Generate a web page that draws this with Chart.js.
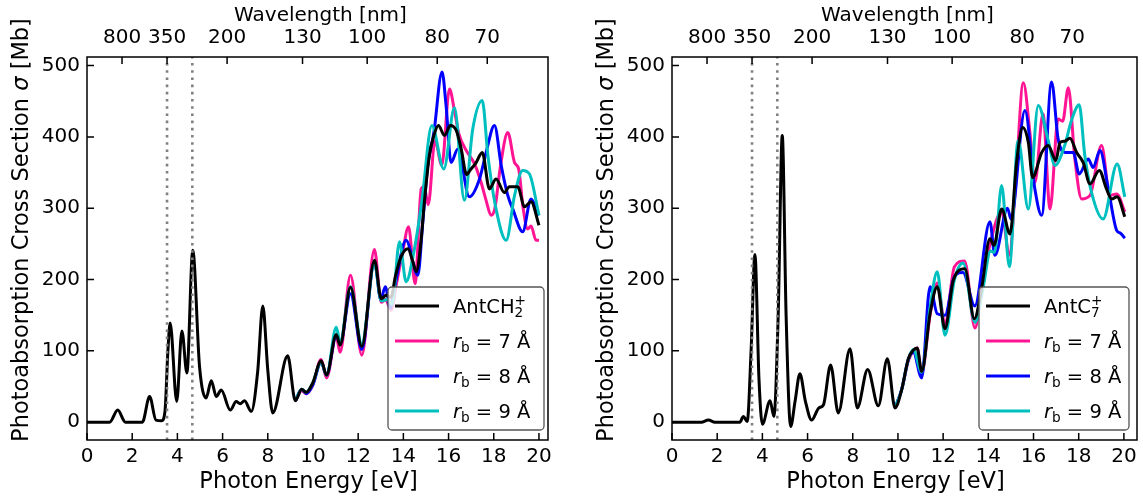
<!DOCTYPE html>
<html>
<head>
<meta charset="utf-8">
<script src="https://cdn.jsdelivr.net/npm/chart.js@4"></script>
<style>
  body { margin: 0; background: #fff; width: 1143px; height: 500px; overflow: hidden; position: relative; }
  canvas { position: absolute; top: 0; }
  #left { left: 0; }
  #right { left: 571px; }
</style>
</head>
<body>
<canvas id="left" width="571" height="500"></canvas>
<canvas id="right" width="572" height="500"></canvas>
<script>
// axis ticks
const xTicks = [0, 2, 4, 6, 8, 10, 12, 14, 16, 18, 20];
const yTicks = [0, 100, 200, 300, 400, 500];
const wavelengthTicks = [800, 350, 200, 130, 100, 80, 70];
const laserLines = [350, 266]; // nm

// left panel: AntCH2+
const ch2E = [0, 1.0, 1.36, 1.7, 2.45, 2.77, 3.05, 3.3, 3.45, 3.58, 3.68, 3.97, 4.2, 4.42, 4.68, 4.98, 5.27, 5.5, 5.72, 5.94,
  6.34, 6.6, 6.78, 6.97, 7.27, 7.55, 7.78, 8.0, 8.22, 8.88, 9.22, 9.5, 9.7, 9.99, 10.36, 10.6, 11.03, 11.2, 11.66, 12.16,
  12.72, 13.02, 13.24, 13.45, 13.65, 13.9, 14.2, 14.42, 14.57, 14.79, 14.93, 15.15, 15.35, 15.55, 15.82, 16.08, 16.34, 16.56,
  16.8, 16.95, 17.22, 17.49, 17.81, 18.1, 18.47, 18.69, 19.06, 19.36, 19.65, 20.0];
const ch2Y = [0, 0, 17, 0, 0, 36, 3, 2, 15, 100, 139, 29, 128, 69, 241, 78, 34, 58, 36, 45,
  17, 29, 26, 30, 15, 70, 163, 73, 13, 93, 30, 46, 42, 55, 86, 66, 123, 108, 189, 106,
  227, 173, 178, 175, 205, 232, 243, 225, 211, 257, 309, 374, 402, 416, 402, 416, 409, 383,
  347, 353, 364, 378, 327, 341, 322, 330, 330, 302, 309, 276];

const ch2r7E = [9.22, 9.5, 9.7, 9.99, 10.36, 10.6, 11.03, 11.2, 11.66, 12.16, 12.72, 13.02, 13.2, 13.46, 13.7, 13.95,
  14.23, 14.52, 14.79, 14.92, 15.1, 15.4, 15.7, 16.04, 16.26, 16.45, 16.8, 17.15, 17.45, 17.66, 17.88, 18.05, 18.3,
  18.62, 18.92, 19.1, 19.3, 19.5, 19.65, 19.87, 20.0];
const ch2r7Y = [30, 44, 40, 52, 88, 62, 120, 98, 206, 94, 242, 168, 172, 157, 195, 235,
  274, 194, 327, 330, 305, 395, 360, 467, 437, 405, 380, 362, 335, 311, 290, 300, 360,
  406, 364, 355, 300, 271, 275, 255, 255];

const ch2r8E = [9.22, 9.5, 9.7, 9.99, 10.36, 10.6, 11.03, 11.2, 11.66, 12.16, 12.72, 13.0, 13.2, 13.42, 13.65, 14.12,
  14.64, 14.86, 15.08, 15.35, 15.71, 15.89, 16.11, 16.41, 16.92, 17.37, 17.66, 18.03, 18.33, 18.62, 18.84, 19.28,
  19.65, 20.0];
const ch2r8Y = [30, 46, 40, 52, 84, 66, 122, 110, 180, 102, 225, 172, 190, 160, 195, 255,
  206, 281, 360, 406, 491, 444, 364, 383, 316, 341, 378, 416, 360, 318, 299, 267,
  313, 290];

const ch2r9E = [9.22, 9.5, 9.7, 9.99, 10.36, 10.6, 11.03, 11.2, 11.66, 12.16, 12.72, 13.02, 13.3, 13.5, 13.83, 14.12,
  14.49, 14.82, 15.26, 15.79, 16.26, 16.7, 17.07, 17.49, 17.74, 18.1, 18.55, 18.92, 19.28, 19.58, 20.0];
const ch2r9Y = [30, 46, 42, 55, 84, 66, 133, 112, 190, 110, 222, 170, 172, 165, 253, 197,
  243, 310, 416, 355, 441, 311, 411, 451, 374, 299, 255, 318, 353, 348, 290];

// right panel: AntC7+
const c7E = [0, 1.3, 1.61, 1.9, 3.0, 3.16, 3.33, 3.5, 3.67, 3.85, 4.0, 4.34, 4.51, 4.7, 4.88, 5.05, 5.25, 5.45, 5.66,
  5.9, 6.18, 6.5, 6.7, 7.02, 7.36, 7.88, 8.2, 8.66, 9.13, 9.53, 9.87, 10.16, 10.46, 10.68, 10.85, 11.05, 11.42, 11.74,
  12.08, 12.45, 12.96, 13.38, 13.7, 14.07, 14.25, 14.59, 14.96, 15.25, 15.52, 15.77, 15.96, 16.36, 16.65, 16.99, 17.17,
  17.39, 17.61, 17.91, 18.2, 18.5, 18.91, 19.23, 19.46, 19.7, 20.04];
const c7Y = [0, 0, 3, 0, 0, 8, 1, 100, 235, 60, -3, 30, 8, 150, 402, 150, -6, 30, 68,
  30, 3, 20, 24, 80, 13, 103, 20, 74, 23, 89, 20, 45, 89, 101, 104, 71, 152, 190,
  131, 199, 215, 145, 187, 257, 248, 299, 264, 364, 413, 392, 343, 378, 388, 367, 392,
  394, 398, 378, 364, 334, 353, 327, 313, 316, 288];

const c7r7E = [9.87, 10.16, 10.46, 10.68, 10.85, 11.05, 11.42, 11.74, 12.08, 12.5, 12.95, 13.41, 13.7, 14.1, 14.59,
  14.93, 15.2, 15.55, 15.84, 16.06, 16.42, 16.73, 17.09, 17.29, 17.54, 17.83, 18.13, 18.5, 19.01, 19.38, 19.68, 20.04];
const c7r7Y = [20, 45, 86, 100, 104, 68, 150, 195, 138, 218, 226, 132, 185, 253, 295,
  234, 330, 476, 406, 336, 432, 299, 425, 422, 469, 369, 313, 318, 388, 318, 320, 295];

const c7r8E = [9.87, 10.16, 10.46, 10.68, 11.05, 11.42, 11.74, 12.08, 12.5, 12.88, 13.4, 14.07, 14.29, 14.85, 15.0,
  15.62, 16.06, 16.36, 16.8, 17.09, 17.4, 17.76, 18.02, 18.42, 18.64, 18.94, 19.31, 19.68, 19.85, 20.04];
const c7r8Y = [20, 45, 88, 98, 62, 190, 152, 150, 204, 210, 163, 281, 234, 300, 285,
  437, 327, 290, 477, 397, 378, 378, 348, 369, 357, 381, 327, 269, 265, 258];

const c7r9E = [9.87, 10.16, 10.46, 10.68, 11.05, 11.42, 11.74, 12.08, 12.5, 12.88, 13.41, 13.75, 14.1, 14.27, 14.59,
  14.93, 15.32, 15.77, 16.21, 16.65, 16.95, 17.35, 17.7, 18.02, 18.27, 18.57, 19.08, 19.7, 20.04];
const c7r9Y = [20, 45, 88, 102, 70, 160, 211, 122, 200, 223, 140, 185, 240, 238, 332,
  218, 395, 299, 444, 395, 360, 385, 425, 445, 374, 322, 285, 362, 316];

const seriesColors = ['#000000', '#ff1493', '#0000ff', '#00bfbf'];
const legendLeft = [
  [{ t: 'AntCH' }, { sub: '2', sup: '+' }],
  [{ t: 'r', italic: true }, { sub: 'b' }, { t: ' = 7 Å' }],
  [{ t: 'r', italic: true }, { sub: 'b' }, { t: ' = 8 Å' }],
  [{ t: 'r', italic: true }, { sub: 'b' }, { t: ' = 9 Å' }]
];
const legendRight = [
  [{ t: 'AntC' }, { sub: '7', sup: '+' }],
  [{ t: 'r', italic: true }, { sub: 'b' }, { t: ' = 7 Å' }],
  [{ t: 'r', italic: true }, { sub: 'b' }, { t: ' = 8 Å' }],
  [{ t: 'r', italic: true }, { sub: 'b' }, { t: ' = 9 Å' }]
];
const yTitle = [{ t: 'Photoabsorption Cross Section ' }, { t: 'σ', italic: true }, { t: ' [Mb]' }];

const FONT = "'DejaVu Sans', sans-serif";
const FS = 20;       // ticks, legend, top title
const TFS = 22.5;    // bottom and left axis titles
const HC = 1239.84;  // eV*nm

Chart.defaults.font.family = FONT;
Chart.defaults.font.size = FS;
Chart.defaults.color = '#000';

const pts = (E, Y) => E.map((x, i) => ({ x: x, y: Y[i] }));

//Draw text made of normal, italic and sub/superscript pieces
const richWidth = (ctx, parts, fs) => {
  let w = 0;
  parts.forEach(p => {
    if (p.t !== undefined) {
      ctx.font = `${p.italic ? 'italic ' : ''}${fs}px ${FONT}`;
      w += ctx.measureText(p.t).width;
    } else {
      ctx.font = `${fs * 0.7}px ${FONT}`;
      w += Math.max(p.sub ? ctx.measureText(p.sub).width : 0, p.sup ? ctx.measureText(p.sup).width : 0);
    }
  });
  return w;
};
const drawRich = (ctx, parts, x, y, fs) => {
  ctx.textBaseline = 'alphabetic';
  ctx.textAlign = 'left';
  parts.forEach(p => {
    if (p.t !== undefined) {
      ctx.font = `${p.italic ? 'italic ' : ''}${fs}px ${FONT}`;
      ctx.fillText(p.t, x, y);
      x += ctx.measureText(p.t).width;
    } else {
      ctx.font = `${fs * 0.7}px ${FONT}`;
      let w = 0;
      if (p.sub) { ctx.fillText(p.sub, x, y + fs * 0.22); w = ctx.measureText(p.sub).width; }
      if (p.sup) { ctx.fillText(p.sup, x, y - fs * 0.42); w = Math.max(w, ctx.measureText(p.sup).width); }
      x += w;
    }
  });
};

//Frame, inward ticks, axis titles, laser lines and legend
const panelPlugin = {
  id: 'panel',
  afterDraw(chart, args, opts) {
    const { ctx, chartArea: a, scales } = chart;
    ctx.save();
    // dotted laser lines
    ctx.strokeStyle = '#808080';
    ctx.lineWidth = 2.6;
    ctx.setLineDash([2.6, 4.6]);
    laserLines.forEach(nm => {
      const px = scales.x.getPixelForValue(HC / nm);
      ctx.beginPath();
      ctx.moveTo(px, a.bottom);
      ctx.lineTo(px, a.top);
      ctx.stroke();
    });
    ctx.setLineDash([]);

    // frame and ticks
    ctx.strokeStyle = '#000';
    ctx.lineWidth = 1.5;
    ctx.strokeRect(a.left, a.top, a.right - a.left, a.bottom - a.top);
    const T = 7;
    ctx.beginPath();
    scales.x.ticks.forEach(t => { const p = scales.x.getPixelForValue(t.value); ctx.moveTo(p, a.bottom); ctx.lineTo(p, a.bottom - T); });
    scales.xTop.ticks.forEach(t => { const p = scales.xTop.getPixelForValue(t.value); ctx.moveTo(p, a.top); ctx.lineTo(p, a.top + T); });
    scales.y.ticks.forEach(t => { const p = scales.y.getPixelForValue(t.value); ctx.moveTo(a.left, p); ctx.lineTo(a.left + T, p); });
    ctx.stroke();

    // axis titles
    ctx.fillStyle = '#000';
    ctx.textAlign = 'center';
    ctx.textBaseline = 'middle';
    const cx = (a.left + a.right) / 2;
    ctx.font = `${TFS}px ${FONT}`;
    ctx.fillText('Photon Energy [eV]', cx - 9, 482);
    ctx.font = `${FS}px ${FONT}`;
    ctx.fillText('Wavelength [nm]', cx + 3, 16);
    ctx.save();
    ctx.translate(a.left - 67, 230);
    ctx.rotate(-Math.PI / 2);
    drawRich(ctx, yTitle, -richWidth(ctx, yTitle, TFS) / 2, 8, TFS);
    ctx.restore();

    // legend
    const b = opts.box;
    ctx.fillStyle = 'rgba(255,255,255,0.8)';
    ctx.strokeStyle = '#555';
    ctx.lineWidth = 1.3;
    ctx.beginPath();
    ctx.roundRect(b.x, b.y, b.w, b.h, 4);
    ctx.fill();
    ctx.stroke();
    opts.labels.forEach((parts, i) => {
      const cy = b.y + 19 + i * 35;
      ctx.strokeStyle = seriesColors[i];
      ctx.lineWidth = 3;
      ctx.beginPath();
      ctx.moveTo(b.x + 7, cy);
      ctx.lineTo(b.x + 51, cy);
      ctx.stroke();
      ctx.fillStyle = '#000';
      drawRich(ctx, parts, b.x + 65, cy + 7, 19.5);
    });
    ctx.restore();
  }
};

const makeDatasets = (series) => series.map((s, i) => ({
  data: pts(s[0], s[1]),
  borderColor: seriesColors[i],
  borderWidth: 3,
  pointRadius: 0,
  cubicInterpolationMode: 'monotone',
  borderJoinStyle: 'round',
  order: i === 0 ? 0 : 4 - i
}));

const drawPanel = (id, series, xMax, leftW, rightPad, labels, box) => {
  return new Chart(document.getElementById(id), {
    type: 'line',
    data: { datasets: makeDatasets(series) },
    options: {
      responsive: false,
      animation: false,
      events: [],
      layout: { padding: { left: 0, right: rightPad, top: 0, bottom: 0 } },
      plugins: {
        legend: { display: false },
        tooltip: { enabled: false },
        panel: { labels: labels, box: box }
      },
      scales: {
        x: {
          type: 'linear', position: 'bottom', min: 0, max: xMax,
          grid: { display: false, drawTicks: false }, border: { display: false },
          ticks: { padding: 5, maxRotation: 0, autoSkip: false },
          afterBuildTicks: s => { s.ticks = xTicks.map(v => ({ value: v })); },
          afterFit: s => { s.height = 60; s.paddingLeft = 0; s.paddingRight = 0; }
        },
        xTop: {
          type: 'linear', position: 'top', min: 0, max: xMax,
          grid: { display: false, drawTicks: false }, border: { display: false },
          ticks: { padding: 7, maxRotation: 0, autoSkip: false, callback: (v, i) => wavelengthTicks[i] },
          afterBuildTicks: s => { s.ticks = wavelengthTicks.map(nm => ({ value: HC / nm })); },
          afterFit: s => { s.height = 57; s.paddingLeft = 0; s.paddingRight = 0; }
        },
        y: {
          type: 'linear', min: -25, max: 512,
          grid: { display: false, drawTicks: false }, border: { display: false },
          ticks: { padding: 7 },
          afterBuildTicks: s => { s.ticks = yTicks.map(v => ({ value: v })); },
          afterFit: s => { s.width = leftW; }
        }
      }
    },
    plugins: [panelPlugin]
  });
};

drawPanel('left', [[ch2E, ch2Y], [ch2r7E, ch2r7Y], [ch2r8E, ch2r8Y], [ch2r9E, ch2r9Y]],
  20.4, 87, 23, legendLeft, { x: 388, y: 287, w: 156, h: 143 });
drawPanel('right', [[c7E, c7Y], [c7r7E, c7r7Y], [c7r8E, c7r8Y], [c7r9E, c7r9Y]],
  20.58, 101, 6, legendRight, { x: 408, y: 287, w: 150, h: 143 });
</script>
</body>
</html>
